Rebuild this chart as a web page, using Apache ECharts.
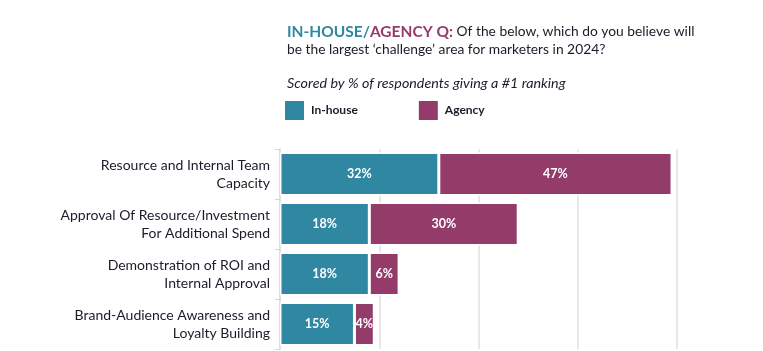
<!DOCTYPE html>
<html>
<head>
<meta charset="utf-8">
<script src="https://cdn.jsdelivr.net/npm/echarts@6/dist/echarts.min.js"></script>
<style>html,body{margin:0;padding:0;background:#fff;}#c{width:763px;height:351px;}</style>
</head>
<body>
<div id="c"></div>
<script>
const categories = [
  "Resource and Internal Team\nCapacity",
  "Approval Of Resource/Investment\nFor Additional Spend",
  "Demonstration of ROI and\nInternal Approval",
  "Brand-Audience Awareness and\nLoyalty Building"
];
const seriesNames = ["In-house", "Agency"];
const inHouse = [32, 18, 18, 15];
const agency = [47, 30, 6, 4];
const xTicks = [0, 20, 40, 60, 80];

const TEAL = "#2F87A2";
const PLUM = "#933C6A";
const FONT = "Lato, 'Noto Sans', sans-serif";

const chart = echarts.init(document.getElementById('c'), null, {renderer: 'canvas'});
const labelCfg = {
  show: true, position: 'inside', color: '#fff', fontWeight: 'bold',
  fontSize: 12.5, fontFamily: FONT, formatter: p => p.value + '%'
};
chart.setOption({
  animation: false,
  textStyle: {fontFamily: FONT},
  title: [{
    left: 287, top: 23, padding: 0,
    text: "{a|IN-HOUSE/}{b|AGENCY Q:}{c| Of the below, which do you believe will}\n{c|be the largest \u2018challenge\u2019 area for marketers in 2024?}",
    textStyle: {
      fontWeight: 'normal',
      rich: {
        a: {color: TEAL, fontWeight: 'bold', fontSize: 15.5, fontFamily: FONT, lineHeight: 18},
        b: {color: PLUM, fontWeight: 'bold', fontSize: 15.5, fontFamily: FONT, lineHeight: 18},
        c: {color: '#1b1b2a', fontWeight: 'normal', fontSize: 13.8, fontFamily: FONT, lineHeight: 18}
      }
    }
  }, {
    left: 287, top: 75, padding: 0,
    text: "Scored by % of respondents giving a #1 ranking",
    textStyle: {color: '#1b1b2a', fontStyle: 'italic', fontWeight: 'normal', fontSize: 14.3, fontFamily: FONT, lineHeight: 16}
  }],
  legend: {
    left: 283, top: 99, padding: 0,
    icon: 'rect', itemWidth: 21, itemHeight: 21, itemGap: 59,
    data: seriesNames,
    textStyle: {color: '#1b1b2a', fontWeight: 'bold', fontSize: 12, fontFamily: FONT, padding: [0, 0, 0, 1]}
  },
  grid: {left: 280, right: 86, top: 149, bottom: 2, containLabel: false},
  xAxis: {
    type: 'value', min: 0, max: 80, interval: 20,
    axisLabel: {show: false}, axisTick: {show: false}, axisLine: {show: false},
    splitLine: {show: true, lineStyle: {color: '#e0e0e0', width: 1.5}}
  },
  yAxis: {
    type: 'category', inverse: true, data: categories,
    axisLine: {show: true, lineStyle: {color: '#dddddd', width: 1.5}},
    axisTick: {show: true, length: 5, lineStyle: {color: '#d6d6d6'}},
    axisLabel: {color: '#1b1b2a', fontSize: 14, fontFamily: FONT, align: 'right', margin: 10, lineHeight: 18}
  },
  series: [
    {name: seriesNames[0], type: 'bar', stack: 's', data: inHouse, barCategoryGap: '14%',
     itemStyle: {color: TEAL, borderColor: '#ffffff', borderWidth: 1.5}, label: labelCfg},
    {name: seriesNames[1], type: 'bar', stack: 's', data: agency, barCategoryGap: '14%',
     itemStyle: {color: PLUM, borderColor: '#ffffff', borderWidth: 1.5}, label: labelCfg}
  ]
});
</script>
</body>
</html>
